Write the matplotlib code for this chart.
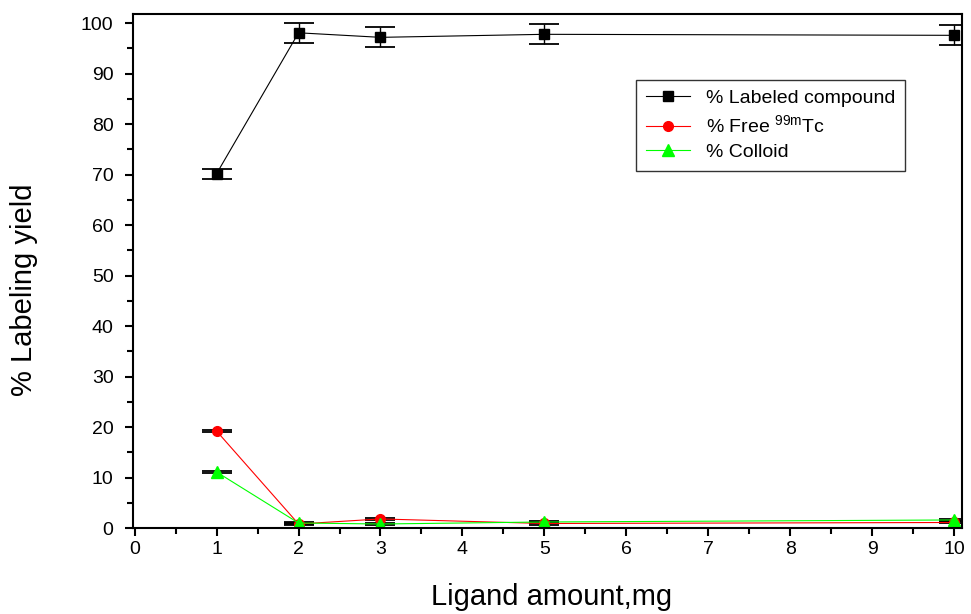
import matplotlib
matplotlib.use("Agg")
from matplotlib import pyplot as plt
from matplotlib.lines import Line2D
from matplotlib.ticker import MultipleLocator

plt.rcParams['font.family'] = ['Liberation Sans', 'DejaVu Sans']

ligand = [1, 2, 3, 5, 10]
labeled = [70.2, 98.1, 97.2, 97.8, 97.6]
labeled_err = [1.0, 2.0, 2.0, 2.0, 2.0]
free_tc = [19.2, 0.8, 1.8, 0.9, 1.1]
free_err = [0.25, 0.2, 0.2, 0.2, 0.2]
colloid = [11.1, 1.0, 0.8, 1.2, 1.6]
colloid_err = [0.1, 0.2, 0.2, 0.2, 0.2]

names = ['% Labeled compound', '% Free $^{\\mathregular{99m}}$Tc', '% Colloid']
colors = ['black', 'red', '#00ff00']
markers = ['s', 'o', '^']
sizes = [7, 7, 9]


def main():
    fig = plt.figure(figsize=(9.71, 6.14), dpi=100)
    ax = fig.add_axes([0.137, 0.140, 0.854, 0.837])

    series = [(labeled, labeled_err), (free_tc, free_err), (colloid, colloid_err)]
    handles = []
    for (ys, errs), c, m, s, n in zip(series, colors, markers, sizes, names):
        ax.errorbar(ligand, ys, yerr=errs, color=c, lw=0.8, marker=m, ms=s,
                    ecolor='black', elinewidth=1, capsize=11, capthick=1.3)
        handles.append(Line2D([], [], color=c, lw=0.8, marker=m, ms=s, label=n))

    ax.set_xlim(-0.02, 10.1)
    ax.set_ylim(0, 101.8)
    ax.xaxis.set_major_locator(MultipleLocator(1))
    ax.xaxis.set_minor_locator(MultipleLocator(0.5))
    ax.yaxis.set_major_locator(MultipleLocator(10))
    ax.yaxis.set_minor_locator(MultipleLocator(5))
    ax.tick_params(which='both', direction='out', top=False, right=False,
                   labelsize=14, width=1.5)
    ax.tick_params(which='major', length=6)
    ax.tick_params(which='minor', length=4)
    ax.tick_params(axis='y', which='major', pad=8)
    for sp in ax.spines.values():
        sp.set_linewidth(1.5)

    ax.set_xlabel('Ligand amount,mg', fontsize=21)
    ax.xaxis.set_label_coords(0.505, -0.106)
    ax.set_ylabel('% Labeling yield', fontsize=21)
    ax.yaxis.set_label_coords(-0.115, 0.463)

    leg = ax.legend(handles=handles, loc='upper right', bbox_to_anchor=(0.931, 0.872),
                    fontsize=14, fancybox=False, edgecolor='#333333', framealpha=1,
                    handlelength=2.3, borderpad=0.5, labelspacing=0.35,
                    borderaxespad=0)
    leg.get_frame().set_linewidth(1)

    fig.savefig('out.png', dpi=100)


if __name__ == "__main__":
    main()
